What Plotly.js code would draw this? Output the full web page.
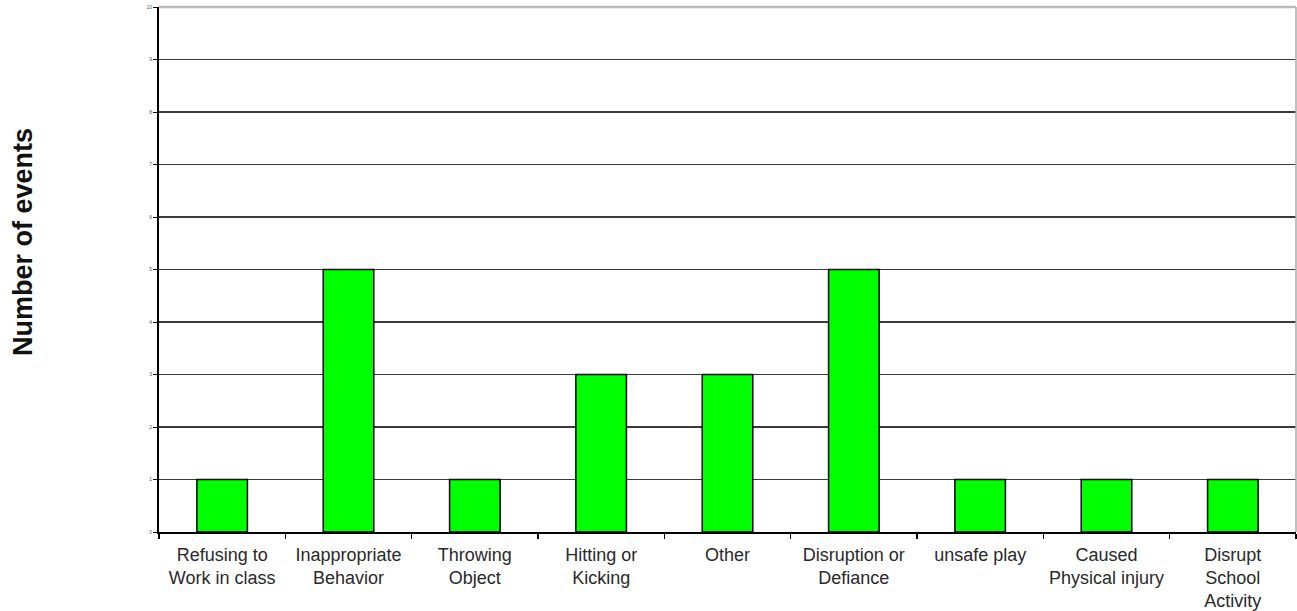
<!DOCTYPE html>
<html>
<head>
<meta charset="utf-8">
<script src="https://cdn.plot.ly/plotly-3.0.1.min.js"></script>
<style>html,body{margin:0;padding:0;background:#fff;}#chart{width:1297px;height:611px;}</style>
</head>
<body>
<div id="chart"></div>
<script>
// Incident categories and event counts
const categories = [
  "Refusing to<br>Work in class",
  "Inappropriate<br>Behavior",
  "Throwing<br>Object",
  "Hitting or<br>Kicking",
  "Other",
  "Disruption or<br>Defiance",
  "unsafe play",
  "Caused<br>Physical injury",
  "Disrupt<br>School<br>Activity"
];
const eventCounts = [1, 5, 1, 3, 3, 5, 1, 1, 1];
const yTicks = [0, 1, 2, 3, 4, 5, 6, 7, 8, 9, 10];
const yTitle = "Number of events";

const fontFamily = "Liberation Sans, Arial, sans-serif";

const trace = {
  type: "bar",
  x: categories,
  y: eventCounts,
  width: 0.4,
  marker: { color: "#00ff00", line: { color: "#000", width: 1.5 } },
  hoverinfo: "x+y"
};

const layout = {
  width: 1297,
  height: 611,
  margin: { l: 159, r: 1, t: 7, b: 79 },
  paper_bgcolor: "#fff",
  plot_bgcolor: "#fff",
  showlegend: false,
  xaxis: {
    type: "category",
    showline: true,
    linecolor: "#000",
    linewidth: 2,
    ticks: "outside",
    tickson: "boundaries",
    ticklen: 5,
    tickcolor: "#000",
    tickwidth: 1.5,
    showgrid: false,
    ticklabelstandoff: 5,
    tickfont: { family: fontFamily, size: 18, color: "#2a2a2a" },
    tickangle: 0
  },
  yaxis: {
    range: [0, 10],
    tickvals: yTicks,
    showline: true,
    linecolor: "#000",
    linewidth: 2,
    ticks: "outside",
    ticklen: 4,
    tickcolor: "#000",
    showgrid: true,
    gridcolor: "#3a3a3a",
    gridwidth: 1.5,
    zeroline: false,
    tickfont: { family: fontFamily, size: 5, color: "#555" }
  },
  annotations: [
    {
      text: "<b>" + yTitle + "</b>",
      xref: "paper", yref: "paper",
      x: -159 / 1137 + 23 / 1137, y: (532 - 242) / 525,
      xanchor: "center", yanchor: "middle",
      textangle: -90,
      showarrow: false,
      font: { family: fontFamily, size: 27, color: "#111" }
    }
  ],
  shapes: [
    { type: "line", xref: "paper", yref: "paper", x0: 0, x1: 1, y0: 1, y1: 1,
      line: { color: "#bbb", width: 2.5 } },
    { type: "line", xref: "paper", yref: "paper", x0: 1, x1: 1, y0: 0, y1: 1,
      line: { color: "#aaa", width: 1.5 } }
  ]
};

Plotly.newPlot("chart", [trace], layout, { displayModeBar: false, staticPlot: true });
</script>
</body>
</html>
